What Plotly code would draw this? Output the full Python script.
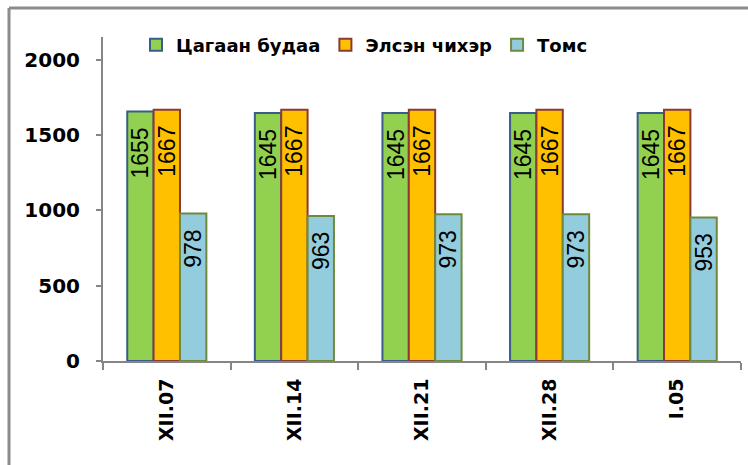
import plotly.graph_objects as go

categories = ["XII.07", "XII.14", "XII.21", "XII.28", "I.05"]
series_names = ["Цагаан будаа", "Элсэн чихэр", "Томс"]
rice = [1655, 1645, 1645, 1645, 1645]
sugar = [1667, 1667, 1667, 1667, 1667]
buckwheat = [978, 963, 973, 973, 953]
y_ticks = [0, 500, 1000, 1500, 2000]

fills = ["#92D050", "#FFC000", "#93CDDD"]
borders = ["#385D8A", "#8C3A35", "#6F8A3C"]

W, H = 748, 465
L, R, T, B = 103, 7, 37, 104
pw, ph = W - L - R, H - T - B

def px_x(p):
    return (p - L) / pw

def px_y(p):
    return (H - B - p) / ph

fig = go.Figure()
for name, vals, fc, bc in zip(series_names, [rice, sugar, buckwheat], fills, borders):
    fig.add_trace(go.Bar(
        name=name, x=categories, y=vals,
        marker=dict(color=fc, line=dict(color=bc, width=2)),
        text=vals, texttemplate="%{y}\u00a0\u00a0",
        textposition="inside", insidetextanchor="end", textangle=-90,
        constraintext="none",
        textfont=dict(family="Liberation Sans", size=23, color="#000000"),
        hoverinfo="skip",
    ))

fig.update_layout(
    width=W, height=H,
    margin=dict(l=L, r=R, t=T, b=B),
    paper_bgcolor="white", plot_bgcolor="white",
    barmode="group", bargap=0.38, bargroupgap=0,
    showlegend=True,
    legend=dict(orientation="h", x=px_x(136), y=px_y(45), xanchor="left", yanchor="middle",
                font=dict(family="DejaVu Sans", size=18, color="#000000", weight="bold"),
                bgcolor="rgba(0,0,0,0)", itemwidth=30, traceorder="normal"),
    xaxis=dict(
        showline=True, linecolor="#868686", linewidth=2,
        ticks="outside", ticklen=7, tickcolor="#868686", tickwidth=2,
        tickson="boundaries", tickangle=-90, showgrid=False,
        tickfont=dict(family="DejaVu Sans", size=19, color="#000000", weight="bold"),
        ticklabelstandoff=8,
    ),
    yaxis=dict(
        range=[0, 2150], tickvals=y_ticks, showgrid=False, zeroline=False,
        showline=True, linecolor="#868686", linewidth=2,
        ticks="outside", ticklen=5, tickcolor="#868686", tickwidth=2,
        tickfont=dict(family="DejaVu Sans", size=20, color="#000000", weight="bold"),
        ticklabelstandoff=12,
    ),
    shapes=[
        dict(type="line", xref="paper", yref="paper", x0=px_x(9), x1=px_x(W + 5),
             y0=px_y(8), y1=px_y(8), line=dict(color="#8C8C8C", width=3)),
        dict(type="line", xref="paper", yref="paper", x0=px_x(9), x1=px_x(9),
             y0=px_y(8), y1=px_y(H + 5), line=dict(color="#8C8C8C", width=3)),
    ],
)

fig.write_html("out.html", config={"displayModeBar": False},
               post_script="document.body.style.margin='0';document.body.style.overflow='hidden';")
